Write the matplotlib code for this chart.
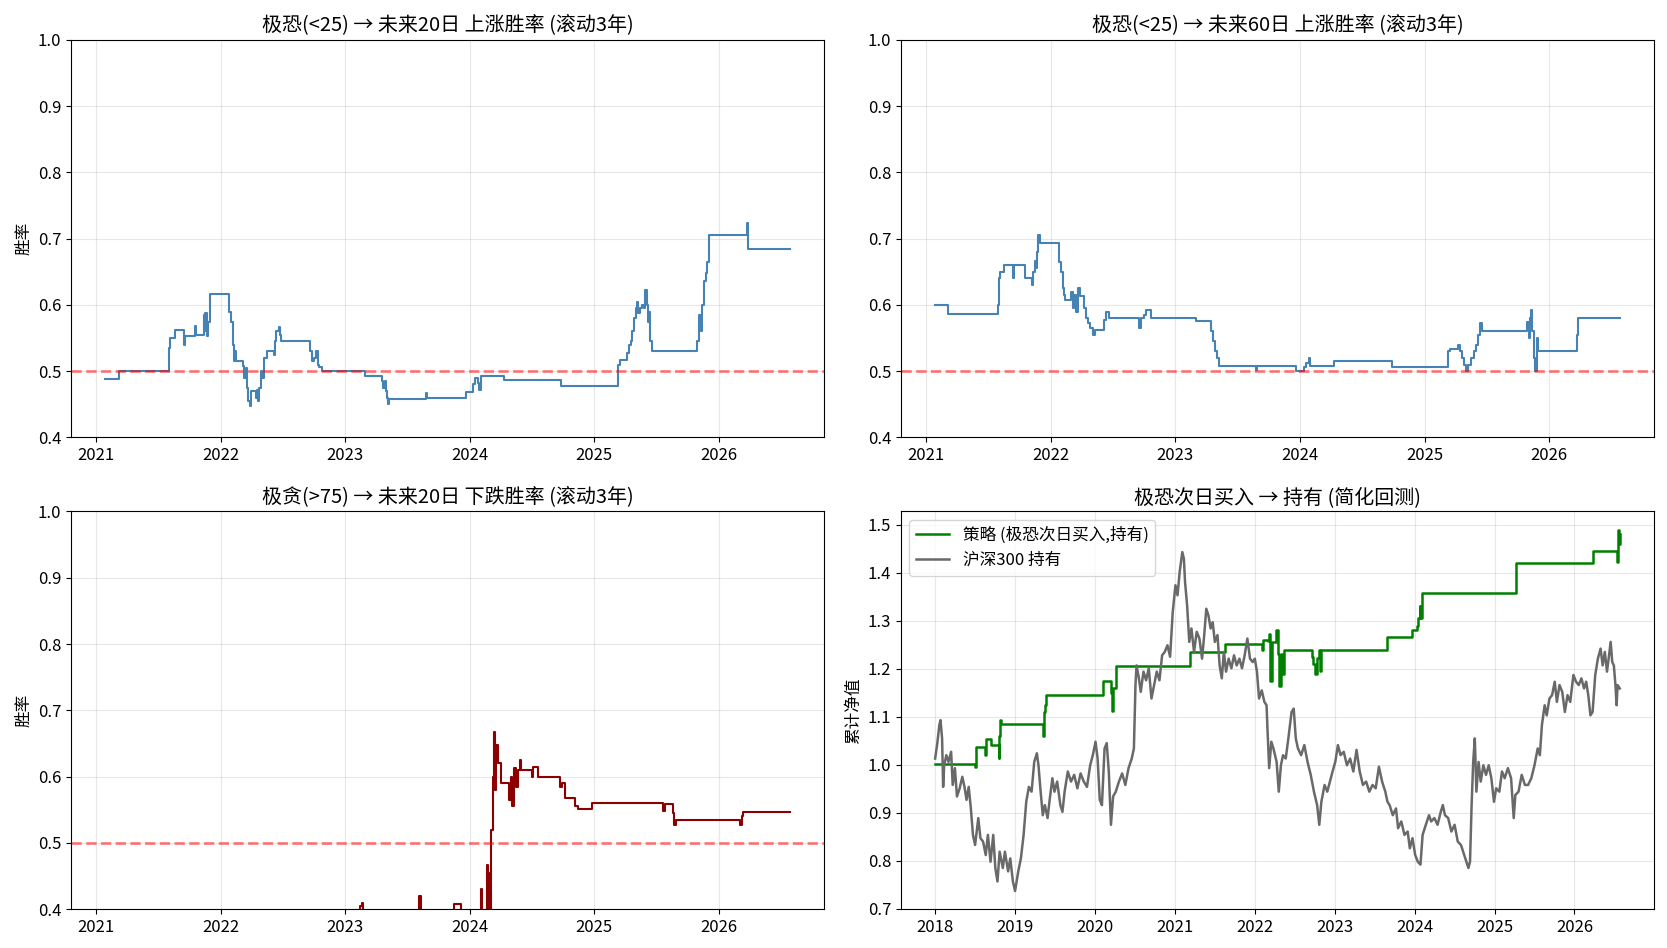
import matplotlib
matplotlib.use("Agg")
import matplotlib.pyplot as plt
from matplotlib.ticker import MultipleLocator, FuncFormatter

plt.rcParams['font.family'] = ['Noto Sans CJK SC', 'DejaVu Sans']
plt.rcParams['axes.unicode_minus'] = False
plt.rcParams['font.size'] = 12

# ---------------- data (decimal years) ----------------
# Panel 1: extreme fear (<25) -> 20-day up win rate (rolling 3y)
fear20_t = [2021.073, 2021.180, 2021.585, 2021.595, 2021.635, 2021.705, 2021.713, 2021.795, 2021.803,
            2021.863, 2021.872, 2021.876, 2021.889, 2021.902, 2021.911, 2022.070, 2022.082, 2022.095,
            2022.104, 2022.113, 2022.121, 2022.177, 2022.190, 2022.203, 2022.211, 2022.220, 2022.233,
            2022.241, 2022.280, 2022.289, 2022.297, 2022.310, 2022.323, 2022.332, 2022.349, 2022.370,
            2022.426, 2022.435, 2022.448, 2022.465, 2022.473, 2022.482, 2022.718, 2022.735, 2022.753,
            2022.765, 2022.778, 2022.791, 2022.817, 2023.161, 2023.294, 2023.307, 2023.316, 2023.324,
            2023.337, 2023.345, 2023.354, 2023.646, 2023.655, 2023.968, 2024.024, 2024.046, 2024.063,
            2024.076, 2024.088, 2024.278, 2024.733, 2025.192, 2025.210, 2025.261, 2025.278, 2025.296,
            2025.304, 2025.317, 2025.334, 2025.343, 2025.351, 2025.369, 2025.386, 2025.399, 2025.407,
            2025.420, 2025.433, 2025.442, 2025.450, 2025.463, 2025.824, 2025.841, 2025.854, 2025.867,
            2025.880, 2025.897, 2025.906, 2025.918, 2026.228, 2026.236, 2026.571]
fear20_v = [0.489, 0.501, 0.535, 0.550, 0.562, 0.540, 0.553, 0.568, 0.555,
            0.585, 0.560, 0.588, 0.553, 0.575, 0.616, 0.590, 0.575, 0.540,
            0.516, 0.530, 0.516, 0.508, 0.490, 0.505, 0.475, 0.455, 0.447,
            0.470, 0.460, 0.472, 0.455, 0.475, 0.500, 0.490, 0.520, 0.530,
            0.525, 0.545, 0.560, 0.567, 0.555, 0.545, 0.530, 0.515, 0.520,
            0.530, 0.510, 0.507, 0.500, 0.493, 0.485, 0.475, 0.485, 0.470,
            0.460, 0.450, 0.458, 0.467, 0.460, 0.468, 0.480, 0.490, 0.482,
            0.472, 0.493, 0.487, 0.478, 0.510, 0.517, 0.528, 0.540, 0.545,
            0.560, 0.580, 0.595, 0.605, 0.588, 0.595, 0.600, 0.595, 0.623,
            0.600, 0.575, 0.590, 0.545, 0.530, 0.545, 0.585, 0.560, 0.600,
            0.636, 0.648, 0.665, 0.706, 0.724, 0.685, 0.685]

# Panel 2: extreme fear (<25) -> 60-day up win rate (rolling 3y)
fear60_t = [2021.073, 2021.175, 2021.577, 2021.586, 2021.595, 2021.629, 2021.697, 2021.706, 2021.791,
            2021.851, 2021.860, 2021.873, 2021.881, 2021.894, 2021.902, 2021.911, 2022.065, 2022.082,
            2022.095, 2022.108, 2022.116, 2022.163, 2022.176, 2022.189, 2022.202, 2022.219, 2022.232,
            2022.266, 2022.283, 2022.300, 2022.317, 2022.339, 2022.352, 2022.429, 2022.446, 2022.467,
            2022.711, 2022.728, 2022.745, 2022.767, 2022.801, 2022.813, 2023.164, 2023.288, 2023.301,
            2023.318, 2023.335, 2023.348, 2023.643, 2023.652, 2023.964, 2024.028, 2024.045, 2024.071,
            2024.084, 2024.276, 2024.734, 2025.187, 2025.205, 2025.265, 2025.282, 2025.299, 2025.316,
            2025.333, 2025.350, 2025.371, 2025.393, 2025.410, 2025.427, 2025.440, 2025.457, 2025.820,
            2025.833, 2025.842, 2025.855, 2025.864, 2025.876, 2025.885, 2025.902, 2025.910, 2026.218,
            2026.231, 2026.565]
fear60_v = [0.600, 0.587, 0.600, 0.640, 0.650, 0.660, 0.640, 0.660, 0.640,
            0.630, 0.650, 0.667, 0.655, 0.680, 0.705, 0.693, 0.665, 0.650,
            0.625, 0.615, 0.607, 0.620, 0.595, 0.615, 0.590, 0.625, 0.613,
            0.595, 0.580, 0.572, 0.565, 0.555, 0.562, 0.578, 0.590, 0.580,
            0.565, 0.580, 0.585, 0.593, 0.580, 0.581, 0.576, 0.560, 0.545,
            0.530, 0.520, 0.508, 0.502, 0.508, 0.500, 0.507, 0.512, 0.520,
            0.508, 0.515, 0.507, 0.530, 0.533, 0.540, 0.530, 0.520, 0.510,
            0.500, 0.510, 0.520, 0.530, 0.540, 0.555, 0.573, 0.560, 0.575,
            0.550, 0.580, 0.593, 0.560, 0.520, 0.500, 0.550, 0.530, 0.555,
            0.580, 0.580]

# Panel 3: extreme greed (>75) -> 20-day down win rate (rolling 3y)
greed20_t = [2021.073, 2023.122, 2023.135, 2023.140, 2023.594, 2023.607, 2023.874, 2023.930,
             2024.093, 2024.101, 2024.136, 2024.144, 2024.153, 2024.166, 2024.174, 2024.183,
             2024.196, 2024.204, 2024.213, 2024.226, 2024.252, 2024.312, 2024.329, 2024.342,
             2024.359, 2024.372, 2024.389, 2024.402, 2024.411, 2024.497, 2024.505, 2024.548,
             2024.729, 2024.741, 2024.763, 2024.849, 2024.866, 2024.982, 2025.553, 2025.566,
             2025.631, 2025.643, 2025.656, 2026.172, 2026.185, 2026.198, 2026.571]
greed20_v = [0.350, 0.405, 0.410, 0.350, 0.420, 0.350, 0.408, 0.350,
             0.430, 0.350, 0.467, 0.455, 0.350, 0.400, 0.520, 0.600,
             0.667, 0.580, 0.648, 0.620, 0.590, 0.565, 0.600, 0.555,
             0.613, 0.585, 0.610, 0.625, 0.610, 0.600, 0.615, 0.600,
             0.585, 0.590, 0.568, 0.555, 0.551, 0.560, 0.548, 0.558,
             0.545, 0.527, 0.534, 0.527, 0.540, 0.547, 0.547]

# Panel 4: simplified backtest, cumulative NAV
strat_t = [2018.000, 2018.500, 2018.513, 2018.620, 2018.633, 2018.693, 2018.793, 2018.800, 2018.807,
           2018.820, 2019.347, 2019.367, 2019.373, 2019.393, 2020.100, 2020.200, 2020.213, 2020.227,
           2020.260, 2021.193, 2021.633, 2022.087, 2022.100, 2022.167, 2022.180, 2022.193, 2022.213,
           2022.260, 2022.287, 2022.307, 2022.327, 2022.340, 2022.360, 2022.713, 2022.727, 2022.753,
           2022.780, 2022.800, 2022.813, 2022.827, 2023.653, 2023.967, 2024.033, 2024.047, 2024.067,
           2024.073, 2024.087, 2024.093, 2025.273, 2026.227, 2026.527, 2026.540, 2026.553, 2026.567]
strat_v = [1.001, 0.995, 1.037, 1.020, 1.053, 1.042, 1.015, 1.060, 1.093,
           1.085, 1.060, 1.110, 1.125, 1.145, 1.175, 1.150, 1.112, 1.160,
           1.205, 1.235, 1.252, 1.240, 1.260, 1.258, 1.272, 1.175, 1.255,
           1.280, 1.230, 1.165, 1.230, 1.190, 1.240, 1.225, 1.210, 1.190,
           1.222, 1.240, 1.195, 1.240, 1.267, 1.280, 1.290, 1.305, 1.330,
           1.305, 1.335, 1.357, 1.420, 1.446, 1.422, 1.490, 1.460, 1.480]

hs300_t = [2018.000, 2018.027, 2018.053, 2018.067, 2018.087, 2018.100, 2018.113, 2018.140, 2018.167,
           2018.200, 2018.220, 2018.247, 2018.273, 2018.307, 2018.340, 2018.367, 2018.393, 2018.420,
           2018.447, 2018.473, 2018.500, 2018.540, 2018.567, 2018.600, 2018.633, 2018.660, 2018.693,
           2018.727, 2018.753, 2018.780, 2018.807, 2018.847, 2018.873, 2018.913, 2018.940, 2018.973,
           2019.000, 2019.040, 2019.073, 2019.107, 2019.140, 2019.173, 2019.207, 2019.240, 2019.273,
           2019.293, 2019.320, 2019.347, 2019.373, 2019.407, 2019.433, 2019.467, 2019.493, 2019.527,
           2019.567, 2019.593, 2019.620, 2019.660, 2019.700, 2019.740, 2019.780, 2019.820, 2019.860,
           2019.900, 2019.940, 2019.973, 2020.007, 2020.033, 2020.060, 2020.087, 2020.120, 2020.147,
           2020.173, 2020.200, 2020.227, 2020.260, 2020.300, 2020.340, 2020.380, 2020.420, 2020.460,
           2020.487, 2020.507, 2020.520, 2020.547, 2020.573, 2020.607, 2020.640, 2020.673, 2020.707,
           2020.740, 2020.773, 2020.807, 2020.840, 2020.873, 2020.907, 2020.940, 2020.973, 2021.007,
           2021.033, 2021.060, 2021.093, 2021.113, 2021.127, 2021.153, 2021.180, 2021.207, 2021.240,
           2021.273, 2021.307, 2021.340, 2021.367, 2021.393, 2021.420, 2021.447, 2021.473, 2021.500,
           2021.533, 2021.560, 2021.587, 2021.613, 2021.640, 2021.673, 2021.707, 2021.740, 2021.773,
           2021.807, 2021.840, 2021.873, 2021.907, 2021.940, 2021.973, 2022.000, 2022.027, 2022.053,
           2022.087, 2022.120, 2022.147, 2022.160, 2022.180, 2022.207, 2022.233, 2022.273, 2022.300,
           2022.327, 2022.353, 2022.387, 2022.420, 2022.460, 2022.487, 2022.513, 2022.540, 2022.580,
           2022.620, 2022.660, 2022.700, 2022.740, 2022.780, 2022.807, 2022.833, 2022.873, 2022.907,
           2022.940, 2022.973, 2023.007, 2023.040, 2023.073, 2023.113, 2023.153, 2023.193, 2023.233,
           2023.273, 2023.313, 2023.353, 2023.393, 2023.433, 2023.473, 2023.513, 2023.553, 2023.593,
           2023.633, 2023.660, 2023.687, 2023.727, 2023.767, 2023.793, 2023.833, 2023.873, 2023.913,
           2023.940, 2023.973, 2024.007, 2024.040, 2024.073, 2024.100, 2024.140, 2024.180, 2024.207,
           2024.247, 2024.287, 2024.327, 2024.353, 2024.380, 2024.420, 2024.460, 2024.500, 2024.540,
           2024.580, 2024.607, 2024.647, 2024.673, 2024.693, 2024.713, 2024.733, 2024.753, 2024.773,
           2024.800, 2024.827, 2024.860, 2024.893, 2024.927, 2024.960, 2024.993, 2025.020, 2025.060,
           2025.093, 2025.127, 2025.167, 2025.207, 2025.240, 2025.260, 2025.300, 2025.340, 2025.380,
           2025.420, 2025.460, 2025.500, 2025.540, 2025.567, 2025.593, 2025.627, 2025.653, 2025.687,
           2025.720, 2025.753, 2025.780, 2025.813, 2025.847, 2025.880, 2025.913, 2025.947, 2025.987,
           2026.020, 2026.053, 2026.087, 2026.120, 2026.147, 2026.173, 2026.200, 2026.227, 2026.260,
           2026.293, 2026.327, 2026.353, 2026.380, 2026.407, 2026.433, 2026.453, 2026.473, 2026.493,
           2026.513, 2026.527, 2026.540, 2026.567]
hs300_v = [1.013, 1.045, 1.083, 1.093, 1.055, 0.954, 0.999, 1.020, 1.006,
           1.027, 0.958, 0.993, 0.934, 0.951, 0.975, 0.954, 0.927, 0.954,
           0.909, 0.854, 0.833, 0.889, 0.847, 0.840, 0.812, 0.854, 0.798,
           0.854, 0.785, 0.757, 0.819, 0.785, 0.819, 0.778, 0.805, 0.757,
           0.737, 0.778, 0.805, 0.854, 0.923, 0.954, 0.944, 1.006, 1.024,
           0.999, 0.944, 0.895, 0.916, 0.889, 0.927, 0.972, 0.944, 0.965,
           0.916, 0.902, 0.944, 0.986, 0.965, 0.979, 0.951, 0.982, 0.965,
           0.954, 0.999, 1.020, 1.048, 1.013, 0.927, 0.916, 1.034, 1.045,
           0.986, 0.875, 0.934, 0.944, 0.965, 0.982, 0.958, 0.993, 1.013,
           1.034, 1.166, 1.207, 1.183, 1.152, 1.194, 1.176, 1.201, 1.138,
           1.166, 1.194, 1.176, 1.228, 1.235, 1.249, 1.225, 1.318, 1.374,
           1.353, 1.402, 1.443, 1.429, 1.381, 1.332, 1.256, 1.284, 1.235,
           1.277, 1.263, 1.221, 1.270, 1.325, 1.311, 1.284, 1.297, 1.256,
           1.270, 1.207, 1.180, 1.235, 1.194, 1.221, 1.201, 1.228, 1.207,
           1.221, 1.201, 1.228, 1.263, 1.221, 1.214, 1.221, 1.194, 1.138,
           1.155, 1.131, 1.124, 1.069, 0.993, 1.048, 1.034, 1.006, 0.944,
           0.999, 1.020, 1.013, 1.055, 1.110, 1.117, 1.055, 1.034, 1.020,
           1.041, 1.006, 0.979, 0.944, 0.916, 0.875, 0.923, 0.958, 0.944,
           0.965, 0.986, 1.006, 1.041, 1.020, 1.027, 0.999, 1.013, 0.986,
           1.031, 0.986, 0.958, 0.965, 0.944, 0.958, 0.951, 0.996, 0.965,
           0.944, 0.923, 0.916, 0.895, 0.909, 0.868, 0.882, 0.854, 0.861,
           0.826, 0.847, 0.812, 0.798, 0.792, 0.854, 0.875, 0.895, 0.882,
           0.889, 0.875, 0.902, 0.916, 0.895, 0.889, 0.861, 0.875, 0.840,
           0.833, 0.819, 0.798, 0.785, 0.798, 0.916, 1.006, 1.055, 0.944,
           1.006, 0.965, 0.999, 0.979, 0.999, 0.972, 0.923, 0.951, 0.944,
           0.986, 0.972, 0.993, 0.972, 0.889, 0.937, 0.944, 0.979, 0.958,
           0.958, 0.972, 0.999, 1.034, 1.020, 1.083, 1.124, 1.103, 1.138,
           1.145, 1.173, 1.131, 1.166, 1.152, 1.110, 1.145, 1.131, 1.187,
           1.173, 1.166, 1.180, 1.159, 1.173, 1.145, 1.103, 1.110, 1.187,
           1.221, 1.242, 1.207, 1.235, 1.194, 1.228, 1.256, 1.214, 1.207,
           1.166, 1.124, 1.166, 1.159]

titles = ["极恐(<25) → 未来20日 上涨胜率 (滚动3年)",
          "极恐(<25) → 未来60日 上涨胜率 (滚动3年)",
          "极贪(>75) → 未来20日 下跌胜率 (滚动3年)",
          "极恐次日买入 → 持有 (简化回测)"]
legend_labels = ["策略 (极恐次日买入,持有)", "沪深300 持有"]

# ---------------- figure ----------------
fig, axes = plt.subplots(2, 2, figsize=(16.67, 9.48), dpi=100)
fig.subplots_adjust(left=0.0426, right=0.9922, top=0.958, bottom=0.041,
                    wspace=0.102, hspace=0.186)

year_fmt = FuncFormatter(lambda x, p: f"{x:.0f}")

def style(ax):
    ax.grid(True, alpha=0.3)
    ax.xaxis.set_major_locator(MultipleLocator(1))
    ax.xaxis.set_major_formatter(year_fmt)
    ax.tick_params(labelsize=12)

panels = [(axes[0, 0], fear20_t, fear20_v, 'steelblue', titles[0], "胜率"),
          (axes[0, 1], fear60_t, fear60_v, 'steelblue', titles[1], None),
          (axes[1, 0], greed20_t, greed20_v, 'darkred', titles[2], "胜率")]
for ax, t, v, c, title, ylab in panels:
    ax.plot(t, v, color=c, lw=1.5, drawstyle='steps-post')
    ax.axhline(0.5, color='red', ls='--', alpha=0.5, lw=2)
    ax.set_ylim(0.4, 1.0)
    ax.set_title(title, fontsize=14.4)
    if ylab:
        ax.set_ylabel(ylab, fontsize=12)
    style(ax)

ax = axes[1, 1]
ax.plot(strat_t, strat_v, color='green', lw=1.8, drawstyle='steps-post', label=legend_labels[0])
ax.plot(hs300_t, hs300_v, color='dimgray', lw=1.8, label=legend_labels[1])
ax.set_title(titles[3], fontsize=14.4)
ax.set_ylabel("累计净值", fontsize=12)
ax.legend(loc='upper left', fontsize=12)
style(ax)

fig.savefig("out.png", dpi=100)
